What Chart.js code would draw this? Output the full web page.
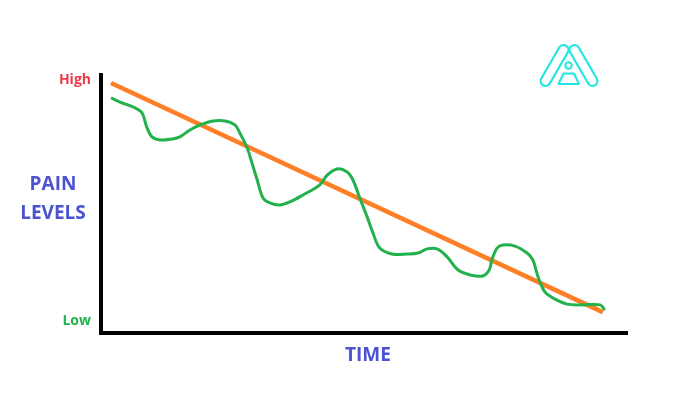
<!DOCTYPE html>
<html>
<head>
<meta charset="utf-8">
<script src="https://cdn.jsdelivr.net/npm/chart.js@4.4.1/dist/chart.umd.min.js"></script>
<style>
  html, body { margin: 0; padding: 0; background: #fff; }
  #wrap { position: relative; width: 700px; height: 395px; overflow: hidden; }
  canvas { position: absolute; left: 0; top: 0; }
  .lbl { position: absolute; font-family: "Open Sans", sans-serif; font-weight: 700; color: #4b53cf; font-size: 19px; line-height: 29px; text-align: center; white-space: nowrap; }
  #logo { position: absolute; left: 0; top: 0; }
</style>
</head>
<body>
<div id="wrap">
  <canvas id="c" width="700" height="395"></canvas>
  <div class="lbl" id="ytitle" style="left:13px; top:169px; width:80px;">PAIN<br>LEVELS</div>
  <div class="lbl" id="xtitle" style="left:318px; top:340px; width:100px;">TIME</div>
  <svg id="logo" width="700" height="395" viewBox="0 0 700 395">
    <g fill="none" stroke-linecap="round" stroke-linejoin="round">
      <line x1="545.5" y1="81" x2="563.5" y2="50" stroke="#22e6e0" stroke-width="12"/>
      <line x1="592.5" y1="81" x2="574.5" y2="50" stroke="#22e6e0" stroke-width="12"/>
      <line x1="545.5" y1="81" x2="563.5" y2="50" stroke="#ffffff" stroke-width="7.6"/>
      <line x1="592.5" y1="81" x2="574.5" y2="50" stroke="#ffffff" stroke-width="7.6"/>
      <circle cx="568.5" cy="65.5" r="3.2" stroke="#22e6e0" stroke-width="2"/>
      <polygon points="563.5,73.5 574,73.5 579,84 558.5,84" stroke="#22e6e0" stroke-width="2"/>
    </g>
  </svg>
</div>
<script>
// Axis range (time 0..100, pain 0..100)
const timeRange = [0, 100];
const painRange = [0, 100];

// Y tick labels
const yTickValues = [4.5, 98];
const yTickLabels = ['Low', 'High'];
const yTickColors = ['#22b14c', '#ea3a48'];

// Trend line (orange)
const trendTime = [1.9, 95.4];
const trendPain = [96.9, 8.1];

// Actual pain level (green)
const actualTime = [1.9, 3.6, 6.1, 7.8, 8.7, 9.7, 11.2, 13.5, 15.0, 16.9, 18.8, 21.3, 23.6, 25.5, 26.4, 27.8, 28.7, 29.7, 30.8, 32.1, 34.0, 35.9, 38.4, 41.6, 43.0, 44.9, 46.8, 47.9, 49.2, 50.6, 51.7, 53.0, 55.3, 58.2, 60.3, 62.0, 63.9, 65.8, 67.9, 70.2, 72.6, 73.8, 74.3, 75.3, 76.4, 78.7, 81.0, 82.1, 83.1, 84.4, 85.9, 88.6, 91.6, 94.9, 95.8];
const actualPain = [91.1, 89.5, 87.6, 85.3, 79.8, 76.0, 74.8, 75.2, 76.0, 78.7, 80.6, 82.2, 82.2, 80.6, 77.5, 71.7, 65.9, 59.3, 52.3, 50.4, 49.6, 50.8, 53.5, 57.4, 61.2, 63.6, 62.4, 59.3, 52.3, 45.0, 38.8, 32.9, 30.6, 30.6, 31.0, 32.6, 32.6, 29.5, 24.4, 22.5, 22.1, 24.4, 28.3, 32.9, 34.1, 33.7, 31.0, 28.3, 21.7, 15.9, 13.6, 11.2, 10.9, 10.9, 8.9];

const toXY = (xs, ys) => xs.map((x, i) => ({ x: x, y: ys[i] }));

new Chart(document.getElementById('c'), {
  type: 'line',
  data: {
    datasets: [
      {
        label: 'Actual',
        data: toXY(actualTime, actualPain),
        borderColor: '#22b14c',
        borderWidth: 3,
        pointRadius: 0,
        tension: 0.35,
        fill: false,
        clip: false
      },
      {
        label: 'Trend',
        data: toXY(trendTime, trendPain),
        borderColor: '#ff7f27',
        borderWidth: 4.5,
        pointRadius: 0,
        tension: 0,
        fill: false,
        clip: false
      }
    ]
  },
  options: {
    responsive: false,
    animation: false,
    events: [],
    layout: { padding: { left: 0, right: 73, top: 75, bottom: 0 } },
    plugins: { legend: { display: false }, tooltip: { enabled: false }, title: { display: false } },
    scales: {
      x: {
        type: 'linear',
        min: timeRange[0],
        max: timeRange[1],
        grid: { display: false, drawTicks: false },
        border: { display: true, color: '#000', width: 4 },
        ticks: { display: false },
        afterFit: (s) => { s.height = 62; }
      },
      y: {
        type: 'linear',
        min: painRange[0],
        max: painRange[1],
        grid: { display: false, drawTicks: false },
        border: { display: true, color: '#000', width: 4 },
        afterBuildTicks: (s) => { s.ticks = yTickValues.map(v => ({ value: v })); },
        ticks: {
          padding: 10,
          autoSkip: false,
          font: { family: 'Open Sans', weight: 'bold', size: 14 },
          color: (ctx) => yTickColors[ctx.index],
          callback: (v, i) => yTickLabels[i]
        },
        afterFit: (s) => { s.width = 101; }
      }
    }
  }
});
</script>
</body>
</html>
